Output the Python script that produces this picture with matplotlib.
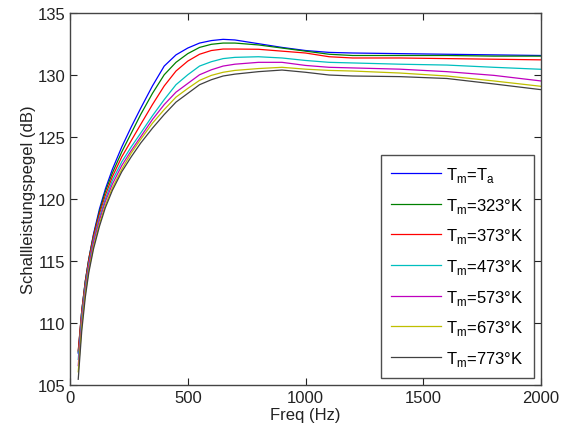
import matplotlib
matplotlib.use("Agg")
import matplotlib.pyplot as plt

# frequency grid (Hz) and sound power levels (dB) per temperature
freq = [35, 50, 65, 80, 100, 125, 150, 180, 220, 260, 300, 350, 400, 450, 500, 550,
        600, 650, 700, 800, 900, 1000, 1100, 1200, 1400, 1600, 1800, 2000]

lw_ta = [107.6, 111.0, 113.4, 115.2, 117.2, 119.2, 120.8, 122.4, 124.2, 125.8, 127.3, 129.1,
         130.7, 131.6, 132.15, 132.55, 132.75, 132.85, 132.8, 132.5, 132.2, 131.95, 131.8,
         131.75, 131.7, 131.65, 131.6, 131.55]
lw_323 = [107.7, 111.0, 113.4, 115.2, 117.1, 119.0, 120.6, 122.1, 123.8, 125.3, 126.8, 128.5,
          130.0, 131.0, 131.7, 132.2, 132.45, 132.55, 132.55, 132.4, 132.15, 131.9, 131.65,
          131.55, 131.55, 131.55, 131.5, 131.5]
lw_373 = [107.8, 111.0, 113.3, 115.1, 117.0, 118.8, 120.3, 121.8, 123.4, 124.7, 126.0, 127.6,
          129.1, 130.3, 131.1, 131.65, 131.95, 132.07, 132.07, 132.05, 131.9, 131.75, 131.45,
          131.35, 131.35, 131.3, 131.25, 131.2]
lw_473 = [107.1, 110.6, 113.0, 114.8, 116.7, 118.5, 120.0, 121.5, 123.0, 124.2, 125.3, 126.7,
          128.0, 129.2, 130.0, 130.7, 131.05, 131.3, 131.4, 131.45, 131.35, 131.15, 131.0,
          130.95, 130.85, 130.78, 130.6, 130.44]
lw_573 = [106.6, 110.2, 112.7, 114.6, 116.5, 118.3, 119.8, 121.2, 122.7, 123.9, 125.0, 126.4,
          127.6, 128.6, 129.3, 130.0, 130.4, 130.7, 130.85, 131.0, 131.0, 130.75, 130.6,
          130.55, 130.45, 130.25, 129.95, 129.5]
lw_673 = [106.1, 109.8, 112.4, 114.3, 116.2, 118.0, 119.5, 120.9, 122.4, 123.7, 124.8, 126.1,
          127.2, 128.2, 128.9, 129.55, 129.95, 130.2, 130.35, 130.5, 130.6, 130.45, 130.35,
          130.3, 130.14, 129.9, 129.5, 129.07]
lw_773 = [105.5, 109.4, 112.1, 114.1, 116.0, 117.8, 119.3, 120.7, 122.2, 123.4, 124.5, 125.7,
          126.8, 127.8, 128.5, 129.2, 129.6, 129.9, 130.05, 130.25, 130.38, 130.2, 129.98,
          129.9, 129.85, 129.7, 129.26, 128.8]

labels = [r"T$_\mathregular{m}$=T$_\mathregular{a}$",
          r"T$_\mathregular{m}$=323°K",
          r"T$_\mathregular{m}$=373°K",
          r"T$_\mathregular{m}$=473°K",
          r"T$_\mathregular{m}$=573°K",
          r"T$_\mathregular{m}$=673°K",
          r"T$_\mathregular{m}$=773°K"]
series = [lw_ta, lw_323, lw_373, lw_473, lw_573, lw_673, lw_773]
colors = [(0, 0, 1), (0, 0.5, 0), (1, 0, 0), (0, 0.75, 0.75),
          (0.75, 0, 0.75), (0.75, 0.75, 0), (0.25, 0.25, 0.25)]

plt.rcParams["font.family"] = ["Liberation Sans", "DejaVu Sans"]
plt.rcParams["font.size"] = 12

fig = plt.figure(figsize=(5.69, 4.35), dpi=100)
ax = fig.add_axes([0.123, 0.1115, 0.828, 0.8572])
for vals, lab, col in zip(series, labels, colors):
    ax.plot(freq, vals, color=col, lw=0.9, label=lab)

ax.set_xlim(0, 2000)
ax.set_ylim(105, 135)
ax.set_xticks([0, 500, 1000, 1500, 2000])
ax.set_yticks(range(105, 136, 5))
ax.tick_params(direction="in", top=True, right=True, length=5, width=0.8,
               colors="#222222", labelcolor="#222222")
for sp in ax.spines.values():
    sp.set_color("#444444")
    sp.set_linewidth(1.0)
ax.set_xlabel("Freq (Hz)", color="#222222", labelpad=1)
ax.set_ylabel("Schallleistungspegel (dB)", color="#222222", labelpad=1)

leg = ax.legend(loc="lower right", frameon=True, fancybox=False, handlelength=3.0,
                labelspacing=0.7, borderaxespad=0.45, handletextpad=0.3, borderpad=0.6)
leg.get_frame().set_edgecolor("#222222")
leg.get_frame().set_linewidth(1.0)

fig.savefig("out.png", dpi=100)
